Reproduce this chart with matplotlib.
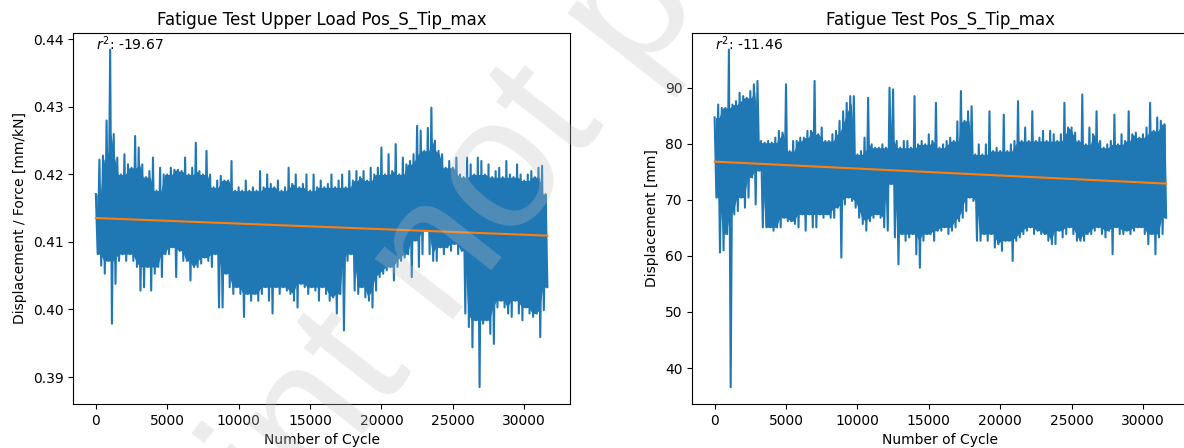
import numpy as np
import matplotlib
matplotlib.use("Agg")
import matplotlib.pyplot as plt

# peaks / troughs of the raw signal, one pair every 250 cycles
upper_load_peaks = [
    0.4171, 0.4222, 0.4228, 0.4280, 0.4385, 0.4260, 0.4225, 0.4200, 0.4230, 0.4215,
    0.4210, 0.4257, 0.4240, 0.4215, 0.4196, 0.4205, 0.4225, 0.4176, 0.4210, 0.4200,
    0.4200, 0.4210, 0.4207, 0.4207, 0.4205, 0.4225, 0.4200, 0.4210, 0.4247, 0.4205,
    0.4200, 0.4235, 0.4200, 0.4181, 0.4191, 0.4198, 0.4191, 0.4191, 0.4220, 0.4176,
    0.4181, 0.4176, 0.4191, 0.4176, 0.4181, 0.4176, 0.4205, 0.4181, 0.4200, 0.4186,
    0.4181, 0.4191, 0.4176, 0.4181, 0.4210, 0.4186, 0.4200, 0.4181, 0.4186, 0.4200,
    0.4176, 0.4200, 0.4181, 0.4191, 0.4181, 0.4186, 0.4200, 0.4181, 0.4191, 0.4200,
    0.4181, 0.4205, 0.4191, 0.4205, 0.4196, 0.4205, 0.4191, 0.4210, 0.4200, 0.4210,
    0.4240, 0.4200, 0.4230, 0.4205, 0.4245, 0.4200, 0.4225, 0.4215, 0.4220, 0.4230,
    0.4272, 0.4265, 0.4235, 0.4269, 0.4299, 0.4250, 0.4235, 0.4230, 0.4210, 0.4220,
    0.4210, 0.4225, 0.4200, 0.4196, 0.4225, 0.4215, 0.4200, 0.4225, 0.4220, 0.4200,
    0.4215, 0.4196, 0.4205, 0.4210, 0.4196, 0.4220, 0.4200, 0.4196, 0.4215, 0.4200,
    0.4191, 0.4200, 0.4205, 0.4196, 0.4210, 0.4213, 0.4171]
upper_load_troughs = [
    0.4082, 0.4065, 0.4053, 0.4072, 0.3979, 0.4038, 0.4072, 0.4082, 0.4072, 0.4082,
    0.4072, 0.4063, 0.4028, 0.4033, 0.4063, 0.4028, 0.4053, 0.4063, 0.4048, 0.4082,
    0.4082, 0.4092, 0.4048, 0.4087, 0.4072, 0.4072, 0.4043, 0.4063, 0.4063, 0.4068,
    0.4077, 0.4072, 0.4063, 0.4082, 0.4003, 0.4003, 0.4053, 0.4033, 0.4023, 0.4033,
    0.4023, 0.3989, 0.4023, 0.4013, 0.4023, 0.4013, 0.4023, 0.4033, 0.4013, 0.3994,
    0.4033, 0.4023, 0.4033, 0.4028, 0.4023, 0.4013, 0.4003, 0.4038, 0.4033, 0.4023,
    0.4033, 0.4028, 0.4013, 0.4033, 0.4023, 0.4013, 0.4018, 0.3994, 0.4023, 0.3969,
    0.4072, 0.4082, 0.4028, 0.4023, 0.4033, 0.4018, 0.4013, 0.4003, 0.4028, 0.4048,
    0.4053, 0.4058, 0.4063, 0.4043, 0.4063, 0.4072, 0.4077, 0.4082, 0.4048, 0.4102,
    0.4063, 0.4082, 0.4117, 0.4082, 0.4072, 0.4072, 0.4092, 0.4082, 0.4092, 0.4087,
    0.4097, 0.4082, 0.4087, 0.3994, 0.3974, 0.3944, 0.3984, 0.3885, 0.3979, 0.3984,
    0.3964, 0.3949, 0.4003, 0.4013, 0.4003, 0.3994, 0.3989, 0.4013, 0.3994, 0.3984,
    0.4003, 0.3994, 0.3989, 0.3994, 0.3959, 0.3999, 0.4033]

tip_peaks = [
    84.7, 87.0, 86.4, 86.4, 96.8, 87.0, 87.6, 89.1, 88.5, 88.2,
    89.4, 90.6, 91.2, 80.5, 80.2, 80.5, 80.2, 81.1, 82.3, 82.0,
    90.6, 78.7, 80.5, 80.5, 81.1, 81.1, 82.3, 82.3, 91.2, 81.7,
    82.9, 80.5, 80.5, 81.7, 82.3, 84.1, 85.8, 87.3, 88.5, 88.5,
    78.1, 78.7, 81.1, 88.2, 79.9, 79.3, 79.3, 79.9, 79.3, 90.0,
    89.7, 80.5, 79.3, 80.5, 80.5, 79.3, 88.5, 79.9, 80.5, 79.9,
    81.7, 80.5, 87.3, 79.3, 79.9, 80.5, 81.1, 80.5, 84.0, 89.4,
    84.1, 85.8, 86.7, 78.1, 79.9, 78.1, 79.9, 85.8, 78.7, 79.3,
    78.7, 85.2, 78.7, 79.9, 80.5, 87.6, 80.5, 82.9, 80.5, 85.8,
    80.5, 81.1, 82.3, 80.5, 82.3, 81.7, 80.5, 81.7, 87.3, 82.9,
    82.9, 82.0, 80.5, 88.8, 79.9, 82.9, 81.7, 85.8, 80.5, 79.3,
    79.9, 80.5, 85.2, 79.9, 81.7, 80.5, 85.8, 81.7, 82.0, 81.1,
    81.7, 82.9, 87.3, 82.3, 84.7, 84.1, 83.5]
tip_troughs = [
    70.4, 60.6, 61.0, 63.9, 36.6, 67.4, 68.0, 70.4, 68.6, 70.4,
    74.0, 69.2, 75.2, 65.1, 65.1, 65.1, 64.5, 65.1, 65.1, 66.8,
    66.2, 66.2, 65.7, 65.1, 67.4, 64.5, 67.4, 65.1, 65.1, 67.4,
    66.8, 67.4, 66.8, 66.8, 68.6, 59.7, 69.2, 70.4, 69.8, 68.6,
    66.8, 65.7, 64.5, 66.2, 66.8, 67.4, 66.8, 65.1, 64.5, 72.8,
    63.3, 58.5, 63.9, 62.7, 63.3, 63.9, 60.3, 57.9, 62.7, 63.9,
    63.9, 62.7, 64.5, 64.5, 65.1, 63.9, 64.5, 65.1, 66.2, 66.8,
    68.0, 70.4, 69.8, 62.7, 62.7, 63.9, 62.7, 63.9, 61.5, 62.1,
    60.9, 62.7, 62.7, 59.1, 62.7, 63.3, 63.9, 64.5, 65.1, 63.9,
    64.5, 63.9, 63.9, 62.7, 62.1, 62.1, 64.5, 63.3, 63.9, 65.1,
    63.9, 62.7, 62.7, 62.7, 63.9, 63.9, 64.5, 65.1, 63.9, 63.3,
    64.5, 60.3, 65.1, 63.9, 63.9, 64.5, 63.9, 64.5, 65.1, 65.1,
    63.9, 62.1, 63.9, 60.3, 63.3, 63.9, 66.8]

# linear fit end points (cycle 0 and last cycle) and r^2 labels
upper_load_fit = [0.41355, 0.41094]
tip_fit = [76.82, 72.90]
r2_values = [-19.67, -11.46]
titles = ["Fatigue Test Upper Load Pos_S_Tip_max", "Fatigue Test Pos_S_Tip_max"]
ylabels = ["Displacement / Force [mm/kN]", "Displacement [mm]"]

STEP = 250


def zigzag(peaks, troughs):
    n = len(peaks)
    x = np.empty(2 * n)
    y = np.empty(2 * n)
    x[0::2] = STEP * np.arange(n)
    x[1::2] = STEP * np.arange(n) + STEP / 2
    y[0::2] = peaks
    y[1::2] = troughs
    return x, y


def core(values, func):
    # dense part of the signal: ignore single-point spikes
    v = np.pad(np.asarray(values), 1, mode="edge")
    return func(np.vstack([v[:-2], v[1:-1], v[2:]]), axis=0)


fig = plt.figure(figsize=(11.84, 4.48), dpi=100)
ax1 = fig.add_axes([0.0619, 0.0982, 0.4195, 0.8288])
ax2 = fig.add_axes([0.5845, 0.0982, 0.4195, 0.8288])

series = [(upper_load_peaks, upper_load_troughs, upper_load_fit),
          (tip_peaks, tip_troughs, tip_fit)]

for ax, (pk, tr, fit), r2, title, ylab in zip([ax1, ax2], series, r2_values, titles, ylabels):
    x, y = zigzag(pk, tr)
    grid = x[0::2] + STEP / 4
    ax.fill_between(grid, core(tr, np.max), core(pk, np.min), color="#1f77b4", lw=0)
    ax.plot(x, y, color="#1f77b4", lw=1.5)
    ax.plot([x[0], x[-1]], fit, color="#ff7f0e", lw=1.5)
    ax.text(x[0], y.max(), r"$r^2$: " + f"{r2:.2f}", fontsize=10)
    ax.set_title(title)
    ax.set_xlabel("Number of Cycle")
    ax.set_ylabel(ylab)

# diagonal preprint watermark across the page
fig.text(0.0076, -0.983, "Preprint not peer reviewed", fontsize=135,
         family="Liberation Sans", color="#c0c0c0", alpha=0.3,
         rotation=52, rotation_mode="anchor", ha="left", va="baseline")

plt.savefig("out.png", dpi=100)
